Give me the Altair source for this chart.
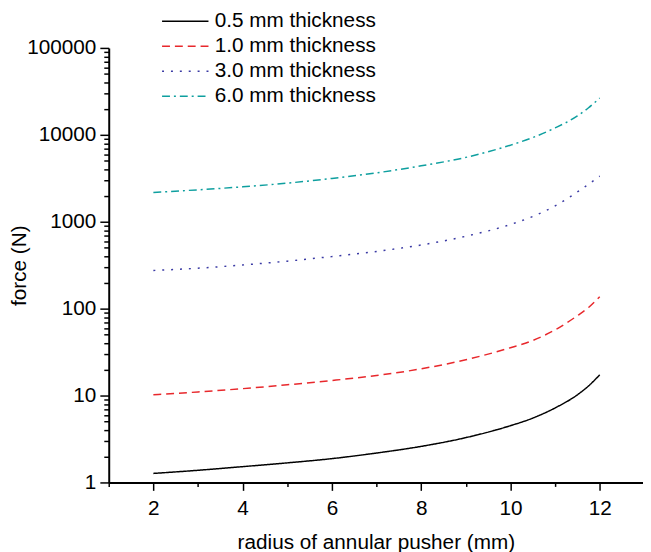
import altair as alt
import pandas as pd

radius = [2, 3, 4, 5, 6, 7, 8, 9, 10, 10.5, 11, 11.5, 11.75, 12]
force_05 = [1.27, 1.38, 1.52, 1.68, 1.88, 2.18, 2.6, 3.28, 4.5, 5.5, 7.2, 10.2, 12.9, 17.3]
force_10 = [10.2, 11.0, 12.0, 13.3, 14.9, 17.0, 20.3, 25.8, 35.5, 43, 57, 83, 103, 137]
force_30 = [275, 292, 318, 352, 398, 455, 540, 680, 930, 1150, 1520, 2200, 2700, 3350]
force_60 = [2170, 2330, 2520, 2780, 3150, 3650, 4400, 5500, 7600, 9300, 12000, 16500, 20500, 26500]

series_names = ["0.5 mm thickness", "1.0 mm thickness", "3.0 mm thickness", "6.0 mm thickness"]
series_colors = ["#000000", "#e8282c", "#3a3aa4", "#0e9f9f"]
series_dashes = [[1, 0], [8, 5], [2, 7], [8, 4, 2, 4]]

x_ticks = list(range(1, 14))
y_ticks = [m * 10 ** e for e in range(0, 5) for m in range(1, 10)] + [100000]

rows = []
for name, vals in zip(series_names, [force_05, force_10, force_30, force_60]):
    for r, v in zip(radius, vals):
        rows.append({"radius": r, "force": v, "series": name})
df = pd.DataFrame(rows)

FONT = "Liberation Sans"

legend_opts = dict(
    title=None,
    orient="none",
    legendX=53,
    legendY=-38.5,
    padding=0,
    clipHeight=23,
    rowPadding=2.3,
    symbolType="stroke",
    symbolSize=2209,
    symbolStrokeWidth=1.5,
    labelOffset=5.25,
    labelFontSize=21,
    labelFont=FONT,
    labelColor="black",
    labelLimit=400,
)

chart = alt.Chart(df).mark_line(strokeWidth=1.5, interpolate="monotone").encode(
    x=alt.X(
        "radius:Q",
        scale=alt.Scale(domain=[1, 12.97], nice=False, zero=False),
        axis=alt.Axis(
            values=x_ticks,
            title="radius of annular pusher (mm)",
            labelExpr="datum.value % 2 == 0 ? datum.label : ''",
            tickSize={"condition": {"test": "datum.value % 2 == 0", "value": 8}, "value": 4},
            grid=False,
            domainColor="black",
            domainWidth=2,
            tickColor="black",
            tickWidth=1.5,
            labelFontSize=21,
            titleFontSize=21,
            labelFont=FONT,
            titleFont=FONT,
            titleFontWeight="normal",
            labelColor="black",
            titleColor="black",
            labelPadding=7,
            titlePadding=14,
            labelOverlap=False,
            labelFlush=False,
        ),
    ),
    y=alt.Y(
        "force:Q",
        scale=alt.Scale(type="log", domain=[1, 100000], nice=False),
        axis=alt.Axis(
            values=y_ticks,
            format="d",
            title="force (N)",
            titleX=-90,
            titleBaseline="middle",
            labelExpr="indexof([1,10,100,1000,10000,100000], datum.value) >= 0 ? datum.label : ''",
            tickSize={"condition": {"test": "indexof([1,10,100,1000,10000,100000], datum.value) >= 0", "value": 9}, "value": 5},
            grid=False,
            domainColor="black",
            domainWidth=2,
            tickColor="black",
            tickWidth=1.5,
            labelFontSize=21,
            titleFontSize=21,
            labelFont=FONT,
            titleFont=FONT,
            titleFontWeight="normal",
            labelColor="black",
            titleColor="black",
            labelPadding=4,
            labelOverlap=False,
            labelFlush=False,
        ),
    ),
    color=alt.Color(
        "series:N",
        scale=alt.Scale(domain=series_names, range=series_colors),
        legend=alt.Legend(**legend_opts),
    ),
    strokeDash=alt.StrokeDash(
        "series:N",
        scale=alt.Scale(domain=series_names, range=series_dashes),
        legend=alt.Legend(**legend_opts),
    ),
).properties(
    width=541,
    height=440,
    autosize=alt.AutoSizeParams(type="none"),
    padding={"left": 102, "top": 37, "right": 0, "bottom": 67},
    background="white",
).configure_view(stroke=None)

chart.save("out.html", embed_options={"renderer": "svg", "actions": False})
